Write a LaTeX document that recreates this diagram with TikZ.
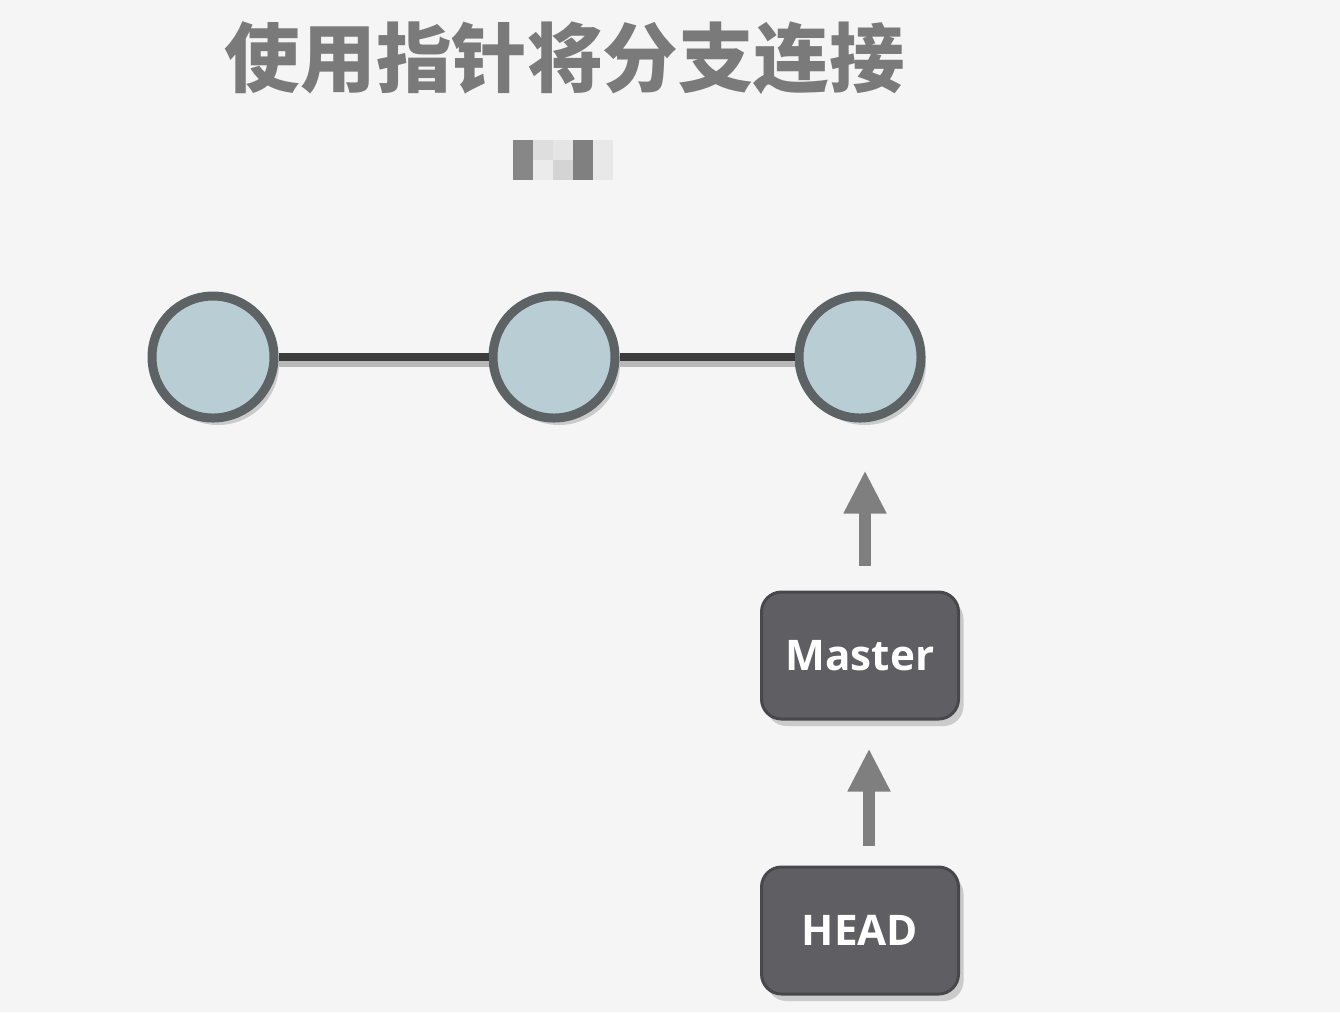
\documentclass[tikz,border=0pt]{standalone}
\usepackage{fontspec}
\setsansfont{Open Sans}
\newfontfamily\cjk{Noto Sans CJK SC}
\usepackage{tikz}
\usetikzlibrary{positioning, arrows.meta, shadows}
\definecolor{bg}{HTML}{F5F5F5}
\definecolor{commit-fill}{HTML}{B9CDD4}
\definecolor{commit-line}{HTML}{5D6265}
\definecolor{link}{HTML}{3C3C3C}
\definecolor{ref-fill}{HTML}{5E5E63}
\definecolor{ref-line}{HTML}{48484C}
\definecolor{pointer}{HTML}{7F7F7F}
\definecolor{title}{HTML}{7A7A7A}

\begin{document}
\begin{tikzpicture}[
	commit/.style={circle, draw=commit-line, fill=commit-fill, line width=0.09cm, minimum size=1.22cm, inner sep=0pt,
		drop shadow={shadow xshift=0.05cm, shadow yshift=-0.07cm, fill=black!40, opacity=0.45}},
	ref/.style={rectangle, rounded corners=0.2cm, draw=ref-line, fill=ref-fill, line width=0.03cm, minimum width=1.97cm, minimum height=1.27cm,
		text=white, font=\sffamily\bfseries\fontsize{12pt}{14pt}\selectfont,
		drop shadow={shadow xshift=0.05cm, shadow yshift=-0.07cm, fill=black!40, opacity=0.45}},
	pointer/.style={draw=pointer, line width=0.12cm, -{Triangle[width=0.40cm, length=0.43cm]}},
	link/.style={draw=link, line width=0.08cm, preaction={draw=black!28, line width=0.08cm, transform canvas={yshift=-0.06cm}}}
]
	% Rahmen
	\fill[bg] (0,0) rectangle (13.4,-10.12);
	\useasboundingbox (0,0) rectangle (13.4,-10.12);

	\node[title, font=\cjk\bfseries\fontsize{21.5pt}{24pt}\selectfont] (title) at (5.65,-0.58) {使用指针将分支连接};
	\foreach \x/\top/\bot in {0/47/47, 1/13/8, 2/10/17, 3/50/50, 4/9/9}
	{
		\fill[black!\top] (5.13+0.2*\x,-1.40) rectangle ++(0.2,-0.2);
		\fill[black!\bot] (5.13+0.2*\x,-1.60) rectangle ++(0.2,-0.2);
	}

	\node[commit] (1) at (2.13,-3.57) {};
	\node[commit, right =2.10cm of 1] (2) {};
	\node[commit, right =1.75cm of 2] (3) {};
	\node[ref, below =1.68cm of 3] (master) {Master};
	\node[ref, below =1.45cm of master] (head) {HEAD};

	\draw[link] (1) -- (2);
	\draw[link] (2) -- (3);
	\draw[pointer, shorten <=0.25cm, shorten >=0.48cm] ([xshift=0.05cm]master.north) -- ([xshift=0.05cm]3.south);
	\draw[pointer, shorten <=0.20cm, shorten >=0.28cm] ([xshift=0.09cm]head.north) -- ([xshift=0.09cm]master.south);
\end{tikzpicture}
\end{document}
